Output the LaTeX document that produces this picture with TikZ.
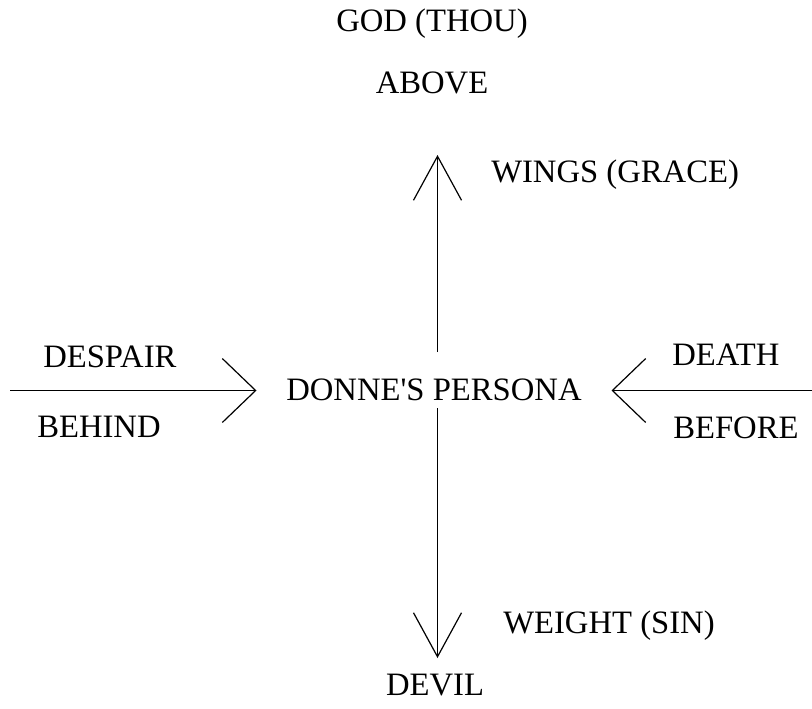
\documentclass[tikz,border=0pt]{standalone}
\usepackage{fontspec}
\setmainfont{Liberation Serif}[Ligatures=TeXOff]
\usetikzlibrary{positioning, arrows.meta}

\begin{document}
\begin{tikzpicture}
    [
        x=0.75pt, y=-0.75pt,
        word/.style={inner sep=0pt, anchor=base, font=\fontsize{24.5}{28}\selectfont},
        vert_arrow/.style={-{Straight Barb[length=33pt, width=36pt, line width=0.9pt]}, line width=1.3pt},
        horiz_arrow/.style={-{Straight Barb[length=25pt, width=48pt, line width=0.9pt]}, line width=1.3pt},
    ]
        \useasboundingbox (0,0) rectangle (812,708);
        \node[word] (god) at (432,31) {GOD (THOU)} ;
        \node[word] (above) at (432,93) {ABOVE} ;
        \node[word, anchor=base west] (wings) at (491,182) {WINGS (GRACE)} ;
        \node[word] (persona) at (434,400) {DONNE'S PERSONA} ;
        \node[word, anchor=base west] (despair) at (43,367) {DESPAIR} ;
        \node[word, anchor=base west] (behind) at (37,437) {BEHIND} ;
        \node[word, anchor=base west] (death) at (672,365) {DEATH} ;
        \node[word, anchor=base west] (before) at (673,438) {BEFORE} ;
        \node[word, anchor=base west] (weight) at (503,633) {WEIGHT (SIN)} ;
        \node[word] (devil) at (435,695) {DEVIL} ;
        \coordinate (up_from) at (437.5,352) ;
        \coordinate (up_to) at (437.5,155) ;
        \coordinate (down_from) at (437.5,408) ;
        \coordinate (down_to) at (437.5,658) ;
        \coordinate (left_from) at (10,390.5) ;
        \coordinate (left_to) at (256.5,390.5) ;
        \coordinate (right_from) at (812,390.5) ;
        \coordinate (right_to) at (611.5,390.5) ;
        \draw[vert_arrow] (up_from) -- (up_to) ;
        \draw[vert_arrow] (down_from) -- (down_to) ;
        \draw[horiz_arrow] (left_from) -- (left_to) ;
        \draw[horiz_arrow] (right_from) -- (right_to) ;
    \end{tikzpicture}
\end{document}
